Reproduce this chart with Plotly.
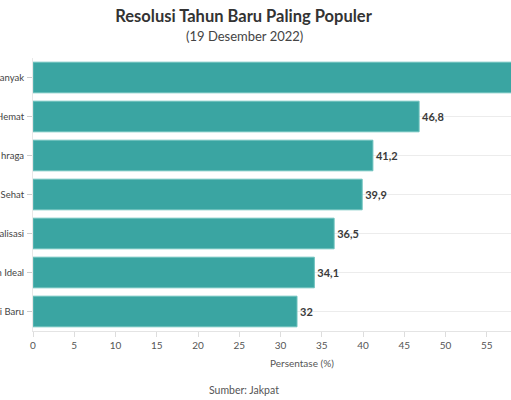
import plotly.graph_objects as go

# Category labels as visible in the reference (the chart is cropped on the left)
categories = [
    "anyak",
    "Hemat",
    "hraga",
    "Sehat",
    "alisasi",
    "n Ideal",
    "i Baru",
]
values = [62.0, 46.8, 41.2, 39.9, 36.5, 34.1, 32.0]
x_ticks = list(range(0, 60, 5))

labels = [(f"{v:g}").replace(".", ",") for v in values]

FONT = "Lato"
FIG_W, FIG_H = 511, 400
PX_L, PX_R, PX_T, PX_B = 33, 511, 58, 331
W = PX_R - PX_L
H = PX_B - PX_T
PX_PER_UNIT = 8.25
X_MAX = W / PX_PER_UNIT

# the bar that runs past the visible range has its label hidden (as in the reference)
text_pos = ["outside" if v <= X_MAX else "none" for v in values]

def px_x(px):
    return (px - PX_L) / W

def px_y(py):
    return (PX_B - py) / H

fig = go.Figure(
    go.Bar(
        x=values,
        y=categories,
        orientation="h",
        marker=dict(color="#3aa5a2", line=dict(color="#6cc1bd", width=1)),
        text=labels,
        textposition=text_pos,
        cliponaxis=True,
        textfont=dict(family=FONT, size=11, color="#3a3a3a", weight="bold"),
        hoverinfo="skip",
    )
)

fig.update_layout(
    width=FIG_W,
    height=FIG_H,
    autosize=False,
    margin=dict(l=PX_L, r=FIG_W - PX_R, t=PX_T, b=FIG_H - PX_B, pad=0),
    paper_bgcolor="white",
    plot_bgcolor="white",
    bargap=0.215,
    showlegend=False,
    font=dict(family=FONT, color="#555555", size=10),
    title=dict(
        text="<b>Resolusi Tahun Baru Paling Populer</b>",
        x=243.5 / FIG_W,
        xanchor="center",
        y=1 - 16.5 / FIG_H,
        yanchor="middle",
        xref="container",
        yref="container",
        font=dict(family=FONT, size=16.5, color="#333333"),
    ),
    xaxis=dict(
        range=[0, X_MAX],
        tickvals=x_ticks,
        ticks="outside",
        ticklen=5,
        tickcolor="#dddddd",
        showgrid=False,
        showline=True,
        linecolor="#e4e4e4",
        zeroline=False,
        tickfont=dict(family=FONT, size=10, color="#555555"),
        fixedrange=True,
    ),
    yaxis=dict(
        autorange="reversed",
        automargin=False,
        ticks="outside",
        ticklen=5,
        tickcolor="#cccccc",
        showgrid=True,
        gridcolor="#ececec",
        showline=True,
        linecolor="#e8e8e8",
        tickfont=dict(family=FONT, size=9.5, color="#444444"),
        ticklabelstandoff=1,
        fixedrange=True,
    ),
    annotations=[
        dict(
            text="(19 Desember 2022)",
            x=px_x(244), y=px_y(35.5), xref="paper", yref="paper",
            xanchor="center", yanchor="middle", showarrow=False,
            font=dict(family=FONT, size=13, color="#444444"),
        ),
        dict(
            text="Persentase (%)",
            x=px_x(301.5), y=px_y(362.5), xref="paper", yref="paper",
            xanchor="center", yanchor="middle", showarrow=False,
            font=dict(family=FONT, size=10, color="#555555"),
        ),
        dict(
            text="Sumber: Jakpat",
            x=px_x(244), y=px_y(390), xref="paper", yref="paper",
            xanchor="center", yanchor="middle", showarrow=False,
            font=dict(family=FONT, size=10.5, color="#555555"),
        ),
    ],
)

fig.write_html(
    "out.html",
    config={"displayModeBar": False},
    post_script="document.body.style.margin='0px';",
)
